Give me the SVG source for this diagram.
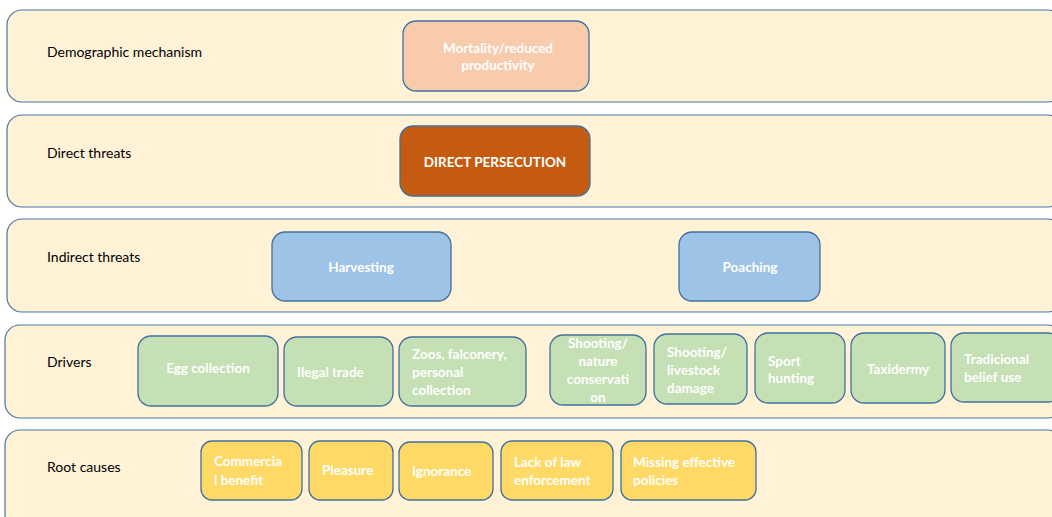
<svg xmlns="http://www.w3.org/2000/svg" width="1052" height="517" viewBox="0 0 1052 517">
  <style>
    .band { fill: #fff2d7; stroke: #4a76a0; stroke-width: 1.2; }
    .node { stroke: #41719c; stroke-width: 1.3; }
    .lbl { font-family: Lato, "Open Sans", sans-serif; font-size: 14px; fill: #000; }
    .t { font-family: Lato, "Open Sans", sans-serif; font-size: 13.5px; font-weight: bold; fill: #ffffff; }
    .c { text-anchor: middle; }
    .peach { fill: #f8cbad; }
    .rust { fill: #c55a11; }
    .blue { fill: #9dc3e6; }
    .green { fill: #c5e0b4; }
    .yellow { fill: #ffd966; }
  </style>
  <rect width="1052" height="517" fill="#ffffff"/>

  <!-- horizontal level bands -->
  <g id="bands">
    <g id="band-demographic">
      <rect class="band" x="7" y="10" width="1056" height="92" rx="15"/>
      <text class="lbl" x="47" y="57">Demographic mechanism</text>
    </g>
    <g id="band-direct">
      <rect class="band" x="7" y="115" width="1056" height="92" rx="15"/>
      <text class="lbl" x="47" y="158">Direct threats</text>
    </g>
    <g id="band-indirect">
      <rect class="band" x="7" y="219" width="1056" height="93" rx="15"/>
      <text class="lbl" x="47" y="262">Indirect threats</text>
    </g>
    <g id="band-drivers">
      <rect class="band" x="5" y="325" width="1058" height="93" rx="15"/>
      <text class="lbl" x="47" y="367">Drivers</text>
    </g>
    <g id="band-root">
      <rect class="band" x="5" y="430" width="1058" height="100" rx="15"/>
      <text class="lbl" x="47" y="472">Root causes</text>
    </g>
  </g>

  <g id="connectors"/>

  <!-- demographic mechanism -->
  <g id="mortality">
    <rect class="node peach" x="403" y="21" width="186" height="70" rx="13"/>
    <text class="t c" x="498" y="52.5">Mortality/reduced </text>
    <text class="t c" x="498" y="69.5">productivity</text>
  </g>

  <!-- direct threats -->
  <g id="direct-persecution">
    <rect class="node rust" x="400" y="126" width="190" height="70" rx="13"/>
    <text class="t c" x="495" y="167">DIRECT PERSECUTION</text>
  </g>

  <!-- indirect threats -->
  <g id="harvesting">
    <rect class="node blue" x="272" y="232" width="179" height="69" rx="13"/>
    <text class="t c" x="361" y="271.5">Harvesting</text>
  </g>
  <g id="poaching">
    <rect class="node blue" x="679" y="232" width="141" height="69" rx="13"/>
    <text class="t c" x="750" y="271.5">Poaching</text>
  </g>

  <!-- drivers -->
  <g id="egg-collection">
    <rect class="node green" x="138" y="336" width="140" height="70" rx="13"/>
    <text class="t c" x="208" y="372.5">Egg collection</text>
  </g>
  <g id="ilegal-trade">
    <rect class="node green" x="284" y="337" width="109" height="69" rx="13"/>
    <text class="t" x="297" y="376.5">Ilegal trade</text>
  </g>
  <g id="zoos">
    <rect class="node green" x="399" y="337" width="127" height="69" rx="13"/>
    <text class="t" x="412" y="358.5">Zoos, falconery, </text>
    <text class="t" x="412" y="376.5">personal </text>
    <text class="t" x="412" y="394.5">collection</text>
  </g>
  <g id="shooting-nature">
    <rect class="node green" x="550" y="335" width="96" height="70" rx="13"/>
    <text class="t c" x="598" y="347.5">Shooting/</text>
    <text class="t c" x="598" y="365.5">nature </text>
    <text class="t c" x="598" y="383.5">conservati</text>
    <text class="t c" x="598" y="401.5">on</text>
  </g>
  <g id="shooting-livestock">
    <rect class="node green" x="654" y="334" width="93" height="70" rx="13"/>
    <text class="t" x="667" y="356.5">Shooting/</text>
    <text class="t" x="667" y="374.5">livestock</text>
    <text class="t" x="667" y="392.5">damage</text>
  </g>
  <g id="sport-hunting">
    <rect class="node green" x="755" y="333" width="90" height="70" rx="13"/>
    <text class="t" x="768" y="365.5">Sport </text>
    <text class="t" x="768" y="382.5">hunting</text>
  </g>
  <g id="taxidermy">
    <rect class="node green" x="851" y="333" width="94" height="70" rx="13"/>
    <text class="t c" x="898" y="373.5">Taxidermy</text>
  </g>
  <g id="tradicional-belief">
    <rect class="node green" x="951" y="333" width="110" height="69" rx="13"/>
    <text class="t" x="964" y="363.5">Tradicional </text>
    <text class="t" x="964" y="381.5">belief use</text>
  </g>

  <!-- root causes -->
  <g id="commercial-benefit">
    <rect class="node yellow" x="201" y="441" width="101" height="59" rx="11"/>
    <text class="t" x="214" y="465.5">Commercia</text>
    <text class="t" x="214" y="484.5">l benefit</text>
  </g>
  <g id="pleasure">
    <rect class="node yellow" x="309" y="441" width="84" height="59" rx="11"/>
    <text class="t" x="322" y="474.5">Pleasure</text>
  </g>
  <g id="ignorance">
    <rect class="node yellow" x="399" y="442" width="94" height="58" rx="11"/>
    <text class="t" x="412" y="475.5">Ignorance</text>
  </g>
  <g id="lack-of-law">
    <rect class="node yellow" x="501" y="441" width="112" height="59" rx="11"/>
    <text class="t" x="514" y="466.5">Lack of law</text>
    <text class="t" x="514" y="484.5">enforcement</text>
  </g>
  <g id="missing-policies">
    <rect class="node yellow" x="621" y="441" width="135" height="59" rx="11"/>
    <text class="t" x="633" y="466.5">Missing effective </text>
    <text class="t" x="633" y="484.5">policies</text>
  </g>
</svg>
